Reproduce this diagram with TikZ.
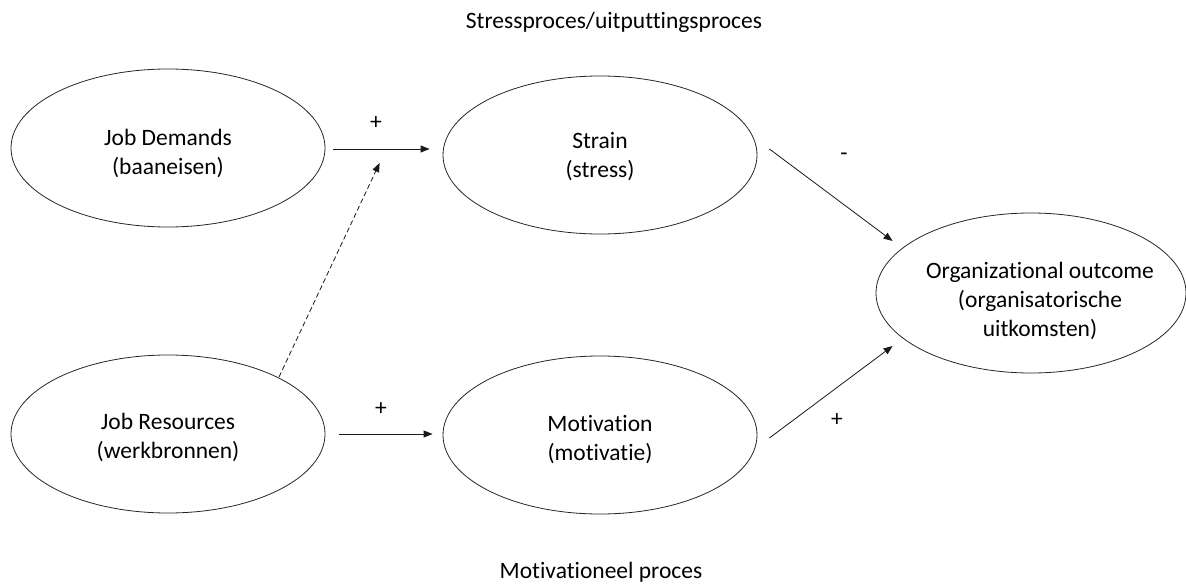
\documentclass[tikz,border=0pt]{standalone}
\usepackage{fontspec}
\setmainfont[Ligatures=NoCommon]{Carlito}
\usetikzlibrary{shapes.geometric,arrows.meta,calc}
\begin{document}
\begin{tikzpicture}[x=1pt,y=-1pt,
  every node/.style={font=\fontsize{23.5}{29}\selectfont, text=black},
  oval/.style={ellipse, draw=black!85, line width=0.8pt, inner sep=0pt,
    minimum width=314pt, minimum height=158pt, align=center},
  conn/.style={draw=black!90, line width=0.8pt, -{Triangle[length=9pt,width=7pt]}},
  sign/.style={inner sep=0pt}]
\useasboundingbox (0,0) rectangle (1186,586);
\node[oval] (jd) at (168,148) {};
\node[oval] (strain) at (600,155) {};
\node[oval] (jr) at (168,434) {};
\node[oval] (mot) at (600,435) {};
\node[oval, minimum width=310pt, minimum height=160pt] (org) at (1031,293) {};
\node[align=center] (jdt) at (168,153) {Job Demands\\(baaneisen)};
\node[align=center] (strt) at (600,157) {Strain\\(stress)};
\node[align=center] (jrt) at (168,437) {Job Resources\\(werkbronnen)};
\node[align=center] (mott) at (600,440) {Motivation\\(motivatie)};
\node[align=center] (orgt) at (1040,301) {Organizational outcome\\(organisatorische\\uitkomsten)};
\node (t1) at (614,22) {Stressproces/uitputtingsproces};
\node (t2) at (601,572) {Motivationeel proces};
% connectors
\draw[conn] ($(jd.east)+(8,1)$) -- ($(strain.west)+(-13,-6)$);
\draw[conn] ($(jr.east)+(14,0)$) -- ($(mot.west)+(-10,-1)$);
\draw[conn, dashed, dash pattern=on 5pt off 3pt] ($(jr.center)+(111,-57)$) -- ($(strain.west)+(-63,8)$);
\draw[conn] ($(strain.east)+(12,-6)$) -- ($(org.west)+(17,-52)$);
\draw[conn] ($(mot.east)+(12,3)$) -- ($(org.west)+(17,53)$);
% signs
\node[sign] (s1) at (376,123) {+};
\node[sign] (s2) at (381,409) {+};
\node[sign] (s3) at (844,157) {-};
\node[sign] (s4) at (837,420) {+};
\end{tikzpicture}
\end{document}
